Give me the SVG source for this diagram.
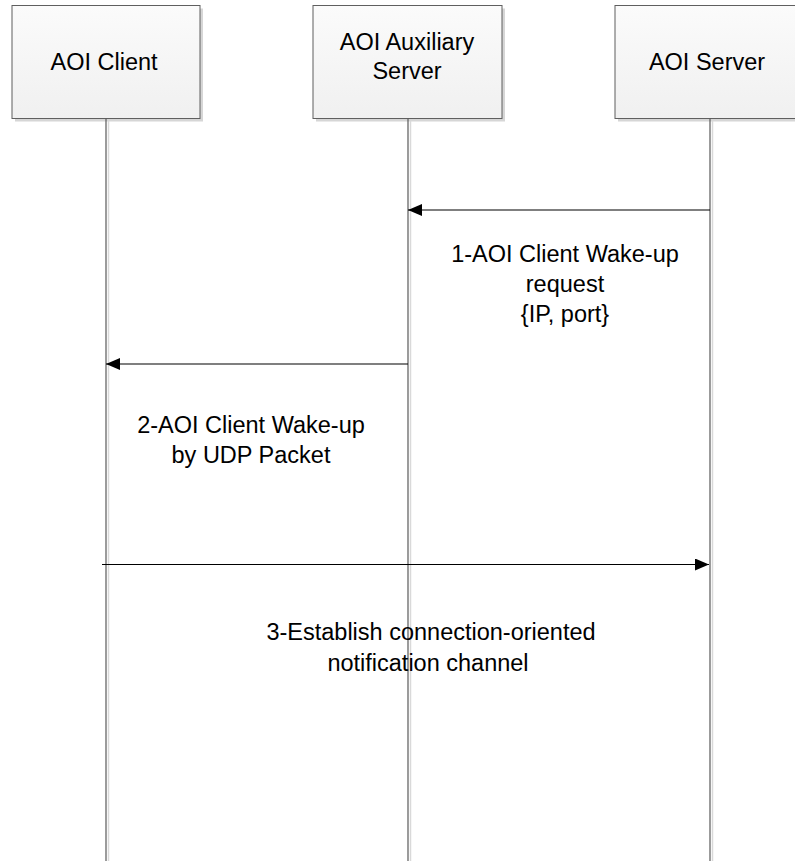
<svg xmlns="http://www.w3.org/2000/svg" width="795" height="861" viewBox="0 0 795 861">
<defs>
<linearGradient id="boxfill" x1="0" y1="0" x2="0" y2="1">
<stop offset="0" stop-color="#fbfbfb"/>
<stop offset="1" stop-color="#f0f0f0"/>
</linearGradient>
<marker id="arrow" markerWidth="15" markerHeight="12" refX="14" refY="6" orient="auto" markerUnits="userSpaceOnUse">
<path d="M0,0 L14,6 L0,12 Z" fill="#000"/>
</marker>
</defs>
<style>
.box{fill:url(#boxfill);stroke:#5f5f5f;stroke-width:1}
.shadow{fill:#d6d6d6}
.life{stroke:#595959;stroke-width:1.2;fill:none}
.lifesh{stroke:#d9d9d9;stroke-width:1.5;fill:none}
.msg{stroke:#000;stroke-width:1.2;fill:none;marker-end:url(#arrow)}
text{font-family:"Liberation Sans",Arial,sans-serif;font-size:23.5px;fill:#000;text-anchor:middle}
</style>
<rect width="795" height="861" fill="#fff"/>
<g id="client">
<rect class="shadow" x="15" y="8.5" width="188" height="113"/>
<rect class="box" x="12" y="5.5" width="188" height="113"/>
<line class="lifesh" x1="108.5" y1="121" x2="108.5" y2="861"/>
<line class="life" x1="106" y1="118.5" x2="106" y2="861"/>
<text x="104" y="70">AOI Client</text>
</g>
<g id="auxiliary">
<rect class="shadow" x="316" y="8.5" width="189" height="113"/>
<rect class="box" x="313" y="5.5" width="189" height="113"/>
<line class="lifesh" x1="410.5" y1="121" x2="410.5" y2="861"/>
<line class="life" x1="408" y1="118.5" x2="408" y2="861"/>
<text x="407" y="50">AOI Auxiliary</text>
<text x="407" y="79">Server</text>
</g>
<g id="server">
<rect class="shadow" x="618" y="8.5" width="190" height="113"/>
<rect class="box" x="615" y="5.5" width="190" height="113"/>
<line class="lifesh" x1="712.5" y1="121" x2="712.5" y2="861"/>
<line class="life" x1="710" y1="118.5" x2="710" y2="861"/>
<text x="707" y="70">AOI Server</text>
</g>
<g id="connectors">
<line class="msg" x1="710" y1="210" x2="408" y2="210"/>
<line class="msg" x1="408" y1="364" x2="106" y2="364"/>
<line class="msg" x1="102" y1="564.5" x2="709" y2="564.5"/>
</g>
<g id="labels">
<text x="565" y="262">1-AOI Client Wake-up</text>
<text x="565" y="292">request</text>
<text x="565" y="322">{IP, port}</text>
<text x="251" y="433">2-AOI Client Wake-up</text>
<text x="251" y="463">by UDP Packet</text>
<text x="431" y="640">3-Establish connection-oriented</text>
<text x="428" y="671">notification channel</text>
</g>
</svg>
